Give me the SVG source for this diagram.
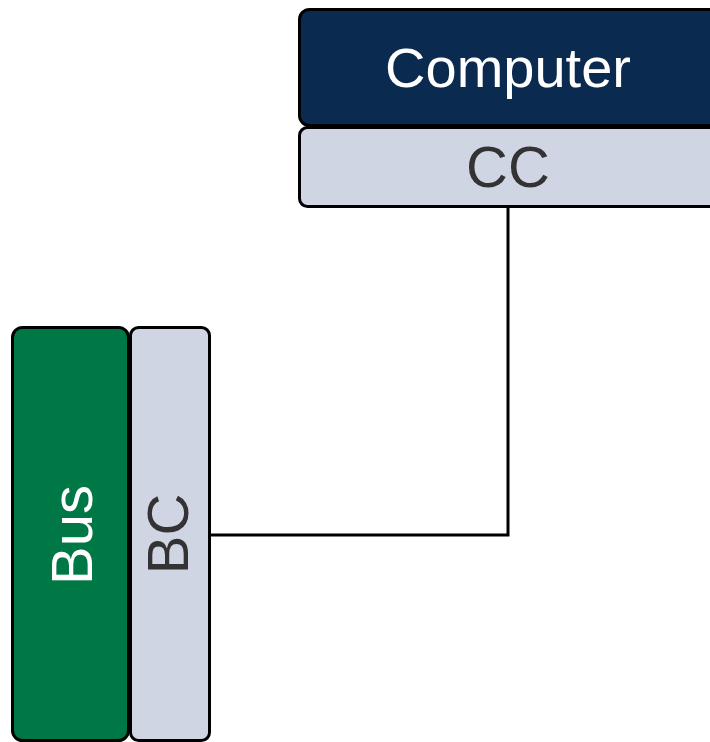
<svg xmlns="http://www.w3.org/2000/svg" width="710" height="742" viewBox="0 0 710 742">
<style>
.box{stroke:#000;stroke-width:3}
.lbl{font-family:"Liberation Sans",Arial,sans-serif;font-size:58px;text-anchor:middle}
.w{fill:#fff}
.d{fill:#333}
.conn{fill:none;stroke:#000;stroke-width:3}
</style>
<rect width="710" height="742" fill="#fff"/>
<g id="computer">
<rect class="box" x="299.5" y="9.5" width="420" height="116" rx="10" fill="#0B2A50"/>
<text class="lbl w" x="508" y="87" style="font-size:56px">Computer</text>
</g>
<g id="cc">
<rect class="box" x="299.5" y="127.5" width="420" height="79" rx="8" fill="#CFD5E2"/>
<text class="lbl d" x="508" y="187">CC</text>
</g>
<g id="bus">
<rect class="box" x="12.5" y="327.5" width="116" height="413" rx="10" fill="#007845"/>
<text class="lbl w" transform="translate(92 535) rotate(-90)" x="0" y="0">Bus</text>
</g>
<g id="bc">
<rect class="box" x="130.5" y="327.5" width="79" height="413" rx="8" fill="#CFD5E2"/>
<text class="lbl d" transform="translate(188 534) rotate(-90)" x="0" y="0">BC</text>
</g>
<g id="connectors">
<polyline class="conn" points="508,207 508,535 210,535"/>
</g>
</svg>
